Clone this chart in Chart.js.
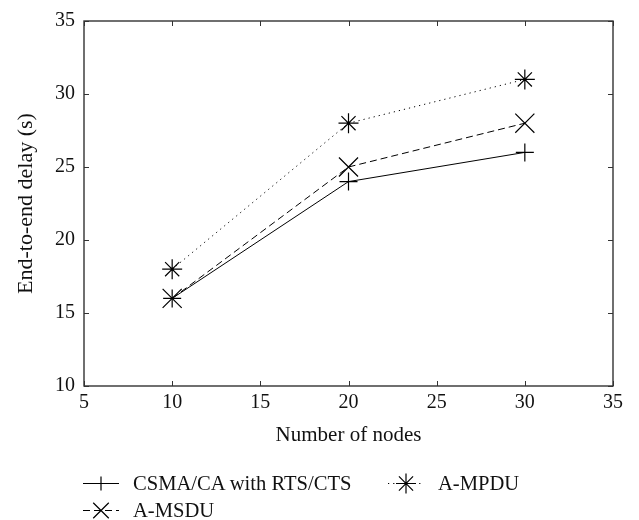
<!DOCTYPE html>
<html>
<head>
<meta charset="utf-8">
<script src="https://cdn.jsdelivr.net/npm/chart.js@4.4.1/dist/chart.umd.min.js"></script>
<style>
  body { margin: 0; background: #fff; }
  #wrap { position: relative; width: 639px; height: 520px; }
  .leg { position: absolute; font: 20.6px "Liberation Serif", "Times New Roman", serif; color: #111; line-height: 24px; display: flex; align-items: center; white-space: nowrap; }
  .leg canvas { margin-right: 14px; }
</style>
</head>
<body>
<div id="wrap">
  <canvas id="c" width="639" height="520"></canvas>
</div>
<script>
// data
const nodes = [10, 20, 30];
const csmaDelay = [16, 24, 26];
const amsduDelay = [16, 25, 28];
const ampduDelay = [18, 28, 31];
const seriesNames = ['CSMA/CA with RTS/CTS', 'A-MSDU', 'A-MPDU'];
const xTicks = [5, 10, 15, 20, 25, 30, 35];
const yTicks = [10, 15, 20, 25, 30, 35];

const serif = '"Liberation Serif", "Times New Roman", serif';
const axisColor = '#333';

const toPoints = (vals) => nodes.map((n, i) => ({ x: n, y: vals[i] }));

const styles = [
    { dash: [], marker: 'cross', radius: 9 },
    { dash: [7, 4], marker: 'crossRot', radius: 13.5 },
    { dash: [1.2, 4], marker: 'star', radius: 10 }
];

const datasets = [csmaDelay, amsduDelay, ampduDelay].map((vals, i) => ({
    label: seriesNames[i],
    data: toPoints(vals),
    borderColor: '#000',
    borderWidth: 1,
    borderDash: styles[i].dash,
    pointStyle: styles[i].marker,
    pointRadius: styles[i].radius,
    pointBorderColor: '#000',
    pointBorderWidth: 1.2,
    pointBackgroundColor: 'rgba(0,0,0,0)',
    fill: false,
    tension: 0
}));

// box round the plot + inward ticks on all four sides
const frameTicks = {
    id: 'frameTicks',
    afterDatasetsDraw(chart) {
        const { ctx, chartArea: a, scales: { x, y } } = chart;
        const len = 5;
        ctx.save();
        ctx.strokeStyle = axisColor;
        ctx.lineWidth = 1.4;
        ctx.strokeRect(a.left, a.top, a.right - a.left, a.bottom - a.top);
        ctx.lineWidth = 1;
        ctx.beginPath();
        xTicks.forEach(v => {
            const px = Math.round(x.getPixelForValue(v)) + 0.5;
            ctx.moveTo(px, a.bottom); ctx.lineTo(px, a.bottom - len);
            ctx.moveTo(px, a.top); ctx.lineTo(px, a.top + len);
        });
        yTicks.forEach(v => {
            const py = Math.round(y.getPixelForValue(v)) + 0.5;
            ctx.moveTo(a.left, py); ctx.lineTo(a.left + len, py);
            ctx.moveTo(a.right, py); ctx.lineTo(a.right - len, py);
        });
        ctx.stroke();
        ctx.restore();
    }
};

new Chart(document.getElementById('c').getContext('2d'), {
    type: 'line',
    data: { datasets },
    options: {
        responsive: false,
        animation: false,
        devicePixelRatio: 1,
        layout: { padding: { left: 0, top: 19, right: 26, bottom: 72 } },
        plugins: { legend: { display: false }, tooltip: { enabled: false } },
        scales: {
            x: {
                type: 'linear',
                min: 5, max: 35,
                afterBuildTicks: s => { s.ticks = xTicks.map(v => ({ value: v })); },
                afterFit: s => { s.height = 62; },
                ticks: { color: '#111', font: { family: serif, size: 20 }, padding: 5, maxRotation: 0 },
                grid: { display: false, drawTicks: false },
                border: { display: false },
                title: { display: true, text: 'Number of nodes', color: '#111', font: { family: serif, size: 21 }, padding: 0 }
            },
            y: {
                min: 10, max: 35,
                afterBuildTicks: s => { s.ticks = yTicks.map(v => ({ value: v })); },
                afterFit: s => { s.width = 84; },
                ticks: { color: '#111', font: { family: serif, size: 20 }, padding: 9 },
                grid: { display: false, drawTicks: false },
                border: { display: false },
                title: { display: true, text: 'End-to-end delay (s)', color: '#111', font: { family: serif, size: 22 }, padding: { top: 13, bottom: 0 } }
            }
        }
    },
    plugins: [frameTicks]
});

// legend below the axes, two columns
function drawMarker(ctx, style, cx, cy, r) {
    ctx.beginPath();
    if (style === 'cross' || style === 'star') {
        ctx.moveTo(cx - r, cy); ctx.lineTo(cx + r, cy);
        ctx.moveTo(cx, cy - r); ctx.lineTo(cx, cy + r);
    }
    if (style === 'crossRot' || style === 'star') {
        const d = r * Math.SQRT1_2;
        ctx.moveTo(cx - d, cy - d); ctx.lineTo(cx + d, cy + d);
        ctx.moveTo(cx - d, cy + d); ctx.lineTo(cx + d, cy - d);
    }
    ctx.stroke();
}

const legendSlots = [
    { left: 83, top: 471 },
    { left: 83, top: 498 },
    { left: 388, top: 471 }
];
const legendRadius = [7, 11, 10];

datasets.forEach((ds, i) => {
    const item = document.createElement('div');
    item.className = 'leg';
    item.style.left = legendSlots[i].left + 'px';
    item.style.top = legendSlots[i].top + 'px';
    const ic = document.createElement('canvas');
    ic.width = 36; ic.height = 24;
    const g = ic.getContext('2d');
    g.strokeStyle = '#000';
    g.lineWidth = 1;
    g.setLineDash(ds.borderDash);
    g.beginPath();
    g.moveTo(0, 12.5); g.lineTo(36, 12.5);
    g.stroke();
    g.setLineDash([]);
    g.lineWidth = 1.2;
    drawMarker(g, ds.pointStyle, 18, 12.5, legendRadius[i]);
    const label = document.createElement('span');
    label.textContent = ds.label;
    item.appendChild(ic);
    item.appendChild(label);
    document.getElementById('wrap').appendChild(item);
});
</script>
</body>
</html>
